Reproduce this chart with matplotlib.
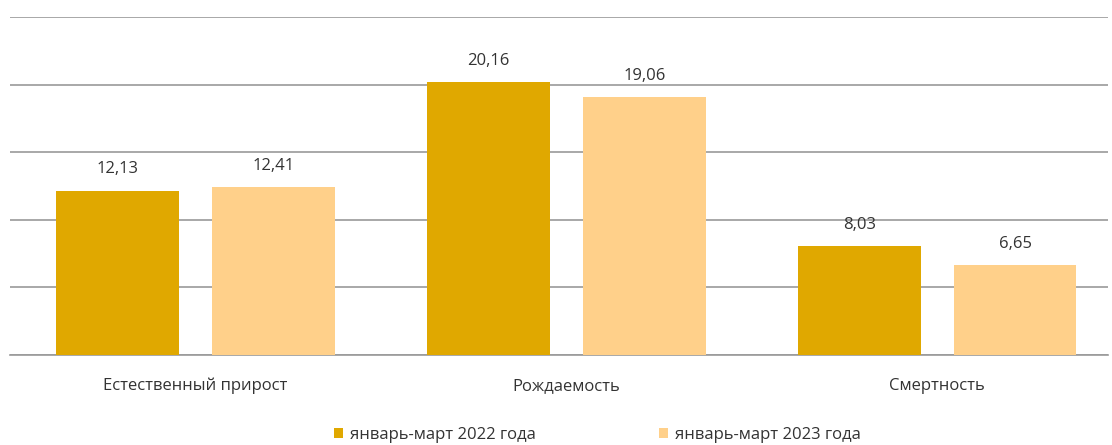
import numpy as np
import matplotlib.pyplot as plt

# Данные
categorias = ['Естественный прирост', 'Рождаемость', 'Смертность']
valores_2022 = [12.13, 20.16, 8.03]
valores_2023 = [12.41, 19.06, 6.65]
serie_2022 = 'январь-март 2022 года'
serie_2023 = 'январь-март 2023 года'

color_2022 = '#E0A800'
color_2023 = '#FFD08A'

plt.rcParams['font.family'] = ['Open Sans', 'DejaVu Sans']

fig = plt.figure(figsize=(11.12, 4.45), dpi=100)
ax = fig.add_axes([10 / 1112, 90 / 445, 1098 / 1112, 338 / 445])

x = np.arange(len(categorias))
ancho = 0.33
desp = 0.21

b1 = ax.bar(x - desp, valores_2022, ancho, color=color_2022, label=serie_2022, zorder=3)
b2 = ax.bar(x + desp, valores_2023, ancho, color=color_2023, label=serie_2023, zorder=3)

for barras in (b1, b2):
    for b in barras:
        h = b.get_height()
        ax.text(b.get_x() + b.get_width() / 2, h + 1.0, f'{h:.2f}'.replace('.', ','),
                ha='center', va='bottom', fontsize=12, color='#333333')

ax.set_ylim(0, 25)
ax.set_xlim(-0.5, 2.46)
ax.set_yticks([0, 5, 10, 15, 20, 25])
ax.yaxis.grid(True, color='#9a9a9a', linewidth=1.2, zorder=0)
ax.tick_params(axis='y', left=False, labelleft=False)
ax.tick_params(axis='x', bottom=False, pad=13, labelsize=12, labelcolor='#333333')
ax.set_xticks(x)
ax.set_xticklabels(categorias)
for lado in ('top', 'right', 'left'):
    ax.spines[lado].set_visible(False)
ax.spines['bottom'].set_color('#9a9a9a')
ax.spines['bottom'].set_linewidth(1.2)

fig.legend(handles=[b1, b2], loc='center', bbox_to_anchor=(0.537, 0.022), ncol=2,
           frameon=False, fontsize=12, handlelength=0.55, handleheight=0.55,
           handletextpad=0.4, columnspacing=7.4, labelcolor='#333333')

fig.savefig('out.png', dpi=100)
